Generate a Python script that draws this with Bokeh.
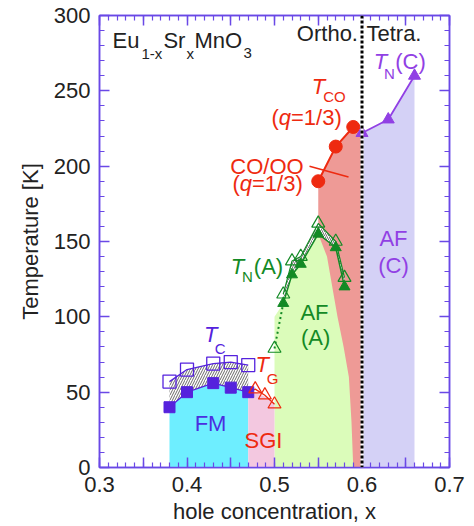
from bokeh.plotting import figure
from bokeh.models import LinearAxis, Range1d, FixedTicker, Label, Span, CustomJSTickFormatter
from bokeh.embed import file_html
from bokeh.resources import INLINE

# ---------------- data ----------------
x_ticks = [0.30, 0.35, 0.40, 0.45, 0.50, 0.55, 0.60, 0.65, 0.70]
x_minor = [round(0.30 + 0.01 * i, 2) for i in range(41)]
y_ticks = [0, 50, 100, 150, 200, 250, 300]
y_minor = [10 * i for i in range(31)]

# T_C (FM) : filled = lower, open = upper
fm_x = [0.38, 0.40, 0.43, 0.45, 0.47]
tc_filled = [40, 50, 56, 53, 50]
tc_open = [57, 65, 69, 70, 68]

# T_G (spin glass)
tg_x = [0.47, 0.478, 0.489, 0.500]
tg_T = [50, 52, 48, 42]
sgi_x = [0.47, 0.478, 0.489, 0.50]
sgi_top = [49, 50, 47, 43]

# T_N(A)
tna_open_x = [0.50, 0.51, 0.52, 0.53, 0.55, 0.57, 0.58]
tna_open_T = [79, 115, 137, 140, 162, 150, 126]
tna_x = [0.51, 0.52, 0.53, 0.55, 0.57, 0.58]
tna_T = [109, 128, 135, 155, 146, 120]

# AF(A) region boundary
afa_left_x = [0.50, 0.50]
afa_left_T = [0, 100]
afa_right_x = [0.56, 0.566, 0.572, 0.579, 0.585, 0.588, 0.59]
afa_right_T = [140, 120, 100, 80, 60, 30, 0]

# T_CO
tco_x = [0.55, 0.57, 0.59]
tco_T = [190, 213, 226]

# T_N(C)
tnc_x = [0.60, 0.63, 0.66]
tnc_T = [222, 231, 260]

# structural boundary
x_struct = 0.60

# CO/OO leader line
lead_x = [0.54, 0.5846]
lead_T = [200, 192.8]

# ---------------- style ----------------
FONT = "Liberation Sans"
AXC = "#6A48E6"
PURP = "#5522DD"
PURP2 = "#9140E4"
RED = "#EE2A10"
GREEN = "#138A25"
C_FM = "#6EEEFF"
C_SGI = "#F3C8E0"
C_AFA = "#DBFCBA"
C_CO = "#EE9A96"
C_AFC = "#D4D1F6"

p = figure(width=474, height=526, x_range=Range1d(0.3, 0.7), y_range=Range1d(0, 300),
           output_backend="svg", toolbar_location=None,
           min_border_left=99, min_border_right=25, min_border_top=15, min_border_bottom=55,
           x_axis_label="hole concentration, x", y_axis_label="Temperature [K]")
p.grid.visible = False
p.outline_line_color = AXC
p.outline_line_width = 1.5
p.background_fill_color = "white"
p.border_fill_color = "white"

xt = FixedTicker(ticks=x_ticks, minor_ticks=x_minor)
yt = FixedTicker(ticks=y_ticks, minor_ticks=y_minor)
fmt = CustomJSTickFormatter(code="return (Math.abs(tick*10 - Math.round(tick*10)) < 1e-6) ? tick.toFixed(1) : '';")
blank = CustomJSTickFormatter(code="return '';")


def style_axis(ax, show):
    ax.axis_line_color = AXC
    ax.axis_line_width = 1.5
    ax.major_tick_line_color = AXC
    ax.minor_tick_line_color = AXC
    ax.major_tick_line_width = 1.5
    ax.minor_tick_line_width = 1.2
    ax.major_tick_in = 10
    ax.major_tick_out = 0
    ax.minor_tick_in = 5
    ax.minor_tick_out = 0
    ax.major_label_text_font = FONT
    ax.major_label_text_font_size = "22px"
    ax.major_label_text_color = "#222222"
    ax.axis_label_text_font = FONT
    ax.axis_label_text_font_size = "22px"
    ax.axis_label_text_font_style = "normal"
    ax.axis_label_text_color = "#222222"
    ax.major_label_standoff = 9 if show else 0


p.xaxis.ticker = xt
p.xaxis.formatter = fmt
p.yaxis.ticker = yt
style_axis(p.xaxis[0], True)
style_axis(p.yaxis[0], True)
p.xaxis.axis_label_standoff = 4
p.yaxis.axis_label_standoff = 8

top = LinearAxis(ticker=FixedTicker(ticks=x_ticks, minor_ticks=x_minor), formatter=blank)
right = LinearAxis(ticker=FixedTicker(ticks=y_ticks, minor_ticks=y_minor), formatter=blank)
style_axis(top, False)
style_axis(right, False)
p.add_layout(top, "above")
p.add_layout(right, "right")

# ---------------- regions ----------------
p.varea(x=tco_x + [x_struct], y1=0, y2=tco_T + [tnc_T[0]], fill_color=C_CO)
p.patch(x=afa_left_x + tna_x[:4] + afa_right_x, y=afa_left_T + tna_T[:4] + afa_right_T,
        fill_color=C_AFA, line_color=None)
p.varea(x=fm_x, y1=0, y2=tc_filled, fill_color=C_FM)
p.varea(x=sgi_x, y1=0, y2=sgi_top, fill_color=C_SGI)
p.varea(x=tnc_x, y1=0, y2=tnc_T, fill_color=C_AFC)

# hatched bands
p.varea(x=fm_x, y1=tc_filled, y2=tc_open, fill_color="white",
        hatch_pattern="/", hatch_color="#444444", hatch_scale=5, hatch_weight=0.8)
p.varea(x=tna_x, y1=tna_T, y2=tna_open_T[1:], fill_color="white",
        hatch_pattern="/", hatch_color="#555555", hatch_scale=4, hatch_weight=0.8)

# ---------------- lines ----------------
p.line(fm_x, tc_open, line_color=PURP, line_width=1.3)
p.line(fm_x, tc_filled, line_color=PURP, line_width=1.3)
p.line(tg_x, tg_T, line_color=RED, line_width=1.3)
p.line(tna_x, tna_T, line_color=GREEN, line_width=1.5)
p.line(tna_open_x[1:], tna_open_T[1:], line_color=GREEN, line_width=1.2)
p.line([tna_open_x[0], tna_x[0]], [tna_open_T[0], tna_T[0]], line_color=GREEN, line_width=2,
       line_dash="2 3")
p.line(tco_x, tco_T, line_color=RED, line_width=2)
p.line(tnc_x, tnc_T, line_color=PURP2, line_width=1.8)
p.line(lead_x, lead_T, line_color=RED, line_width=1.5)

# ---------------- markers ----------------
p.scatter(fm_x, tc_open, marker="square", size=13, fill_color=None, line_color=PURP, line_width=1.3)
p.scatter(fm_x, tc_filled, marker="square", size=11, fill_color=PURP, line_color=PURP)
p.scatter(tg_x[1:], tg_T[1:], marker="triangle", size=13, fill_color=None, line_color=RED, line_width=1.2)
p.scatter(tna_open_x, tna_open_T, marker="triangle", size=13, fill_color=None, line_color=GREEN, line_width=1.2)
p.scatter(tna_x, tna_T, marker="triangle", size=11, fill_color=GREEN, line_color=GREEN)
p.scatter(tco_x, tco_T, marker="circle", size=13, fill_color=RED, line_color=RED)
p.scatter(tnc_x, tnc_T, marker="triangle", size=12, fill_color=PURP2, line_color=PURP2)

# structural boundary (dotted)
p.add_layout(Span(location=x_struct, dimension="height", line_color="white", line_width=3))
p.add_layout(Span(location=x_struct, dimension="height", line_color="black", line_width=3,
                  line_dash="3 2"))


# ---------------- labels ----------------
def lab(x, y, text, color="#222222", size=22, italic=False, align="center"):
    p.add_layout(Label(x=x, y=y, text=text, text_color=color, text_font=FONT,
                       text_font_size=f"{size}px", text_font_style="italic" if italic else "normal",
                       text_align=align, text_baseline="middle"))


lab(0.3149, 283.6, "Eu", align="left")
lab(0.3480, 275, "1-x", size=15, align="left")
lab(0.3730, 283.6, "Sr", align="left")
lab(0.3994, 275, "x", size=15, align="left")
lab(0.4086, 283.6, "MnO", align="left")
lab(0.4646, 275, "3", size=15, align="left")

lab(0.5954, 288, "Ortho.", align="right")
lab(0.6051, 288, "Tetra.", align="left")

lab(0.5503, 252.6, "T", RED, italic=True)
lab(0.5686, 246, "CO", RED, size=15)
lab(0.49657, 232.2, "(", RED, align="left")
lab(0.50491, 232.2, "q", RED, italic=True, align="left")
lab(0.51886, 232.2, "=1/3)", RED, align="left")

lab(0.4914, 200, "CO/OO", RED)
lab(0.4520, 188.8, "(", RED, align="left")
lab(0.46034, 188.8, "q", RED, italic=True, align="left")
lab(0.47429, 188.8, "=1/3)", RED, align="left")

lab(0.4270, 88, "T", PURP, italic=True)
lab(0.4380, 79, "C", PURP, size=15)
lab(0.4860, 68.4, "T", RED, italic=True)
lab(0.4977, 59, "G", RED, size=15)
lab(0.4269, 29, "FM", "#4B2EE0")
lab(0.4874, 17.8, "SGI", RED)
lab(0.5457, 102.6, "AF", GREEN)
lab(0.5470, 86, "(A)", GREEN)
lab(0.4577, 133.5, "T", GREEN, italic=True)
lab(0.4691, 127, "N", GREEN, size=15)
lab(0.4931, 133.5, "(A)", GREEN)
lab(0.6211, 269.7, "T", PURP2, italic=True)
lab(0.6314, 261.8, "N", PURP2, size=15)
lab(0.6554, 269.7, "(C)", PURP2)
lab(0.6360, 152, "AF", PURP2)
lab(0.6360, 134, "(C)", PURP2)

open("out.html", "w").write(file_html(p, INLINE))
